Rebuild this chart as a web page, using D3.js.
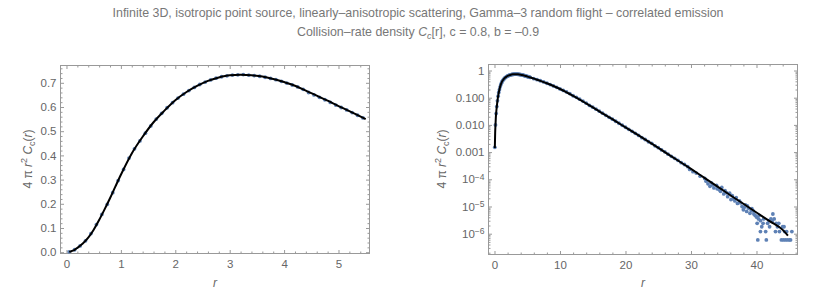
<!DOCTYPE html>
<html>
<head>
<meta charset="utf-8">
<script src="https://cdn.jsdelivr.net/npm/d3@7"></script>
<style>
body { margin: 0; background: #fff; }
text { font-family: "Liberation Sans", Arial, sans-serif; }
</style>
</head>
<body>
<svg id="chart" width="830" height="306"></svg>
<script>
// exact solution 4 pi r^2 Cc(r)
var curveR = [0.05,0.1,0.15,0.2,0.3,0.4,0.5,0.6,0.7,0.8,0.9,1.0,1.2,1.4,1.6,1.8,2.0,2.2,2.4,2.6,2.8,3.0,3.2,3.4,3.6,3.8,4.0,4.2,4.4,4.6,4.8,5.0,5.2,5.5,
  6,7,8,9,10,12,14,16,18,20,22,24,26,28,30,32,34,36,38,40,42,44,44.8];
var curveV = [0.0014,0.005,0.01,0.018,0.036,0.06,0.093,0.133,0.177,0.223,0.272,0.32,0.408,0.477,0.537,0.585,0.628,0.661,0.687,0.708,0.722,0.731,0.733,0.731,0.726,0.716,0.703,0.688,0.668,0.647,0.626,0.604,0.583,0.55,
  0.501,0.417,0.339,0.269,0.209,0.117,0.0617,0.0316,0.0162,0.0081,0.0041,0.00204,0.001,4.9e-4,2.4e-4,1.15e-4,5.5e-5,2.6e-5,1.26e-5,6.0e-6,2.9e-6,1.38e-6,8.5e-7];

// simulated (random flight) estimates
var mcR = [0.05,0.15,0.25,0.35,0.45,0.55,0.65,0.75,0.85,0.95,1.05,1.15,1.25,1.35,1.45,1.55,1.65,1.75,1.85,1.95,
  2.05,2.15,2.25,2.35,2.45,2.55,2.65,2.75,2.85,2.95,3.05,3.15,3.25,3.35,3.45,3.55,3.65,3.75,3.85,3.95,
  4.05,4.15,4.25,4.35,4.45,4.55,4.65,4.75,4.85,4.95,5.05,5.15,5.25,5.35,5.45,
  6,6.5,7,7.5,8,8.5,9,9.5,10,10.5,11,11.5,12,12.5,13,13.5,14,14.5,15,15.5,16,16.5,17,17.5,18,18.5,19,19.5,
  20,20.5,21,21.5,22,22.5,23,23.5,24,24.5,25,25.5,26,26.5,27,27.5,28,28.5,29,29.5,
  29.8,30.3,30.8,31.4,32.1,32.3,32.6,32.9,33.1,33.3,33.5,33.9,34.0,34.3,34.5,34.7,35.0,35.2,35.4,35.6,35.9,
  36.1,36.3,36.5,36.7,36.9,37.1,37.4,37.6,37.8,38.0,38.2,38.3,38.5,38.6,38.8,39.0,39.2,39.3,39.5,39.6,39.8,
  40.0,40.1,40.2,40.3,40.4,40.6,40.6,40.8,41.0,41.1,41.4,41.5,41.7,41.9,42.0,42.2,42.4,42.5,42.7,42.9,
  43.0,43.2,43.4,43.5,43.8,44.0,44.1,44.2,44.3,44.4,44.6,44.7,45.0,45.2,45.4];
var mcV = [0.0015,0.010,0.026,0.047,0.077,0.114,0.156,0.198,0.246,0.296,0.342,0.389,0.427,0.46,0.492,0.522,0.55,0.574,0.597,0.618,
  0.637,0.653,0.668,0.681,0.693,0.703,0.712,0.719,0.725,0.729,0.732,0.733,0.734,0.732,0.73,0.727,0.723,0.718,0.713,0.706,
  0.699,0.691,0.683,0.673,0.66,0.65,0.64,0.63,0.619,0.608,0.598,0.588,0.577,0.566,0.555,
  0.50,0.46,0.42,0.38,0.34,0.305,0.27,0.24,0.21,0.185,0.163,0.142,0.118,0.103,0.088,0.075,0.063,0.052,0.045,0.038,0.032,0.027,0.0225,0.019,0.0163,0.0136,0.0115,0.0097,
  0.0082,0.0069,0.0058,0.0049,0.0041,0.0034,0.0029,0.0024,0.0021,0.0017,0.00145,0.0012,0.00102,0.00084,0.0007,0.00059,0.0005,0.00041,0.00035,0.00029,
  2.3e-4,1.9e-4,1.7e-4,1.3e-4,1.07e-4,8.5e-5,6.8e-5,5.5e-5,7.4e-5,6.2e-5,4.8e-5,6.0e-5,4.5e-5,4.2e-5,3.6e-5,5.0e-5,2.9e-5,3.8e-5,3.2e-5,2.3e-5,3.1e-5,
  1.8e-5,2.5e-5,1.9e-5,1.6e-5,2.1e-5,1.3e-5,1.6e-5,1.35e-5,1.0e-5,7.6e-6,9.5e-6,1.15e-5,6.6e-6,1.05e-5,8.7e-6,5.6e-6,7.1e-6,8.3e-6,6.9e-6,5.3e-6,4.7e-6,
  4.1e-6,2.4e-6,5.9e-7,3.5e-6,4.7e-6,3.0e-6,1.2e-6,1.8e-6,2.4e-6,3.5e-6,1.2e-6,5.9e-7,2.4e-6,3.0e-6,1.8e-6,3.5e-6,2.95e-6,5.3e-6,3.5e-6,1.2e-6,
  2.4e-6,1.8e-6,2.4e-6,1.2e-6,5.9e-7,1.8e-6,5.9e-7,1.8e-6,1.2e-6,5.9e-7,1.2e-6,5.9e-7,5.9e-7,5.9e-7,1.2e-6];

var leftXTicks = [0,1,2,3,4,5];
var leftYTicks = [0,0.1,0.2,0.3,0.4,0.5,0.6,0.7];
var rightXTicks = [0,10,20,30,40];
var rightYTicks = [1,0.1,0.01,0.001,1e-4,1e-5,1e-6];
var rightYLabels = ["1","0.100","0.010","0.001","10^\u22124","10^\u22125","10^\u22126"];

var svg = d3.select("#chart");
var grey = "#999", labelCol = "#666";

var curve = curveR.map(function(r,i){ return {r:r, v:curveV[i]}; });
var mc = mcR.map(function(r,i){ return {r:r, v:mcV[i]}; });

// title
svg.append("text").attr("x",418).attr("y",17).attr("text-anchor","middle")
  .attr("fill","#777").style("font-size","12.4px")
  .text("Infinite 3D, isotropic point source, linearly\u2013anisotropic scattering, Gamma\u20133 random flight \u2013 correlated emission");
var t2 = svg.append("text").attr("x",418).attr("y",36).attr("text-anchor","middle")
  .attr("fill","#777").style("font-size","12.4px");
t2.append("tspan").text("Collision\u2013rate density ");
t2.append("tspan").style("font-style","italic").text("C");
t2.append("tspan").attr("dy",3).style("font-size","9px").style("font-style","italic").text("c");
t2.append("tspan").attr("dy",-3).text("[r], c = 0.8, b = \u20130.9");

function yTitle(cx, cy) {
  var t = svg.append("text").attr("transform","translate("+cx+","+cy+") rotate(-90)")
    .attr("text-anchor","middle").attr("fill",labelCol).style("font-size","12px");
  t.append("tspan").text("4 \u03c0 ");
  t.append("tspan").style("font-style","italic").text("r");
  t.append("tspan").attr("dy",-5).style("font-size","9px").text("2");
  t.append("tspan").attr("dy",5).text(" ");
  t.append("tspan").style("font-style","italic").text("C");
  t.append("tspan").attr("dy",3).style("font-size","9px").text("c");
  t.append("tspan").attr("dy",-3).text("(");
  t.append("tspan").style("font-style","italic").text("r");
  t.append("tspan").text(")");
}

function xTitle(cx, cy) {
  svg.append("text").attr("x",cx).attr("y",cy).attr("text-anchor","middle")
    .attr("fill",labelCol).style("font-size","12px").style("font-style","italic").text("r");
}

function frameAxes(g, x, y, xMaj, xMin, yMaj, yMin, xFmt, yFmt) {
  var x0 = x.range()[0], x1 = x.range()[1], yb = y.range()[0], yt = y.range()[1];
  function style(sel) {
    sel.select(".domain").remove();
    sel.selectAll("line").attr("stroke",grey);
    sel.selectAll("text").attr("fill",labelCol).style("font-size","11.5px")
      .style("font-family","'Liberation Sans', Arial, sans-serif");
  }
  g.append("g").attr("transform","translate(0,"+yb+")")
    .call(d3.axisBottom(x).tickValues(xMaj).tickSizeInner(-3.5).tickSizeOuter(0).tickPadding(6).tickFormat(xFmt)).call(style);
  g.append("g").attr("transform","translate(0,"+yb+")")
    .call(d3.axisBottom(x).tickValues(xMin).tickSize(-2).tickFormat("")).call(style);
  g.append("g").attr("transform","translate(0,"+yt+")")
    .call(d3.axisTop(x).tickValues(xMaj).tickSize(-3.5).tickFormat("")).call(style);
  g.append("g").attr("transform","translate(0,"+yt+")")
    .call(d3.axisTop(x).tickValues(xMin).tickSize(-2).tickFormat("")).call(style);
  var yl = g.append("g").attr("transform","translate("+x0+",0)")
    .call(d3.axisLeft(y).tickValues(yMaj).tickSizeInner(-3.5).tickSizeOuter(0).tickPadding(4).tickFormat(yFmt)).call(style);
  g.append("g").attr("transform","translate("+x0+",0)")
    .call(d3.axisLeft(y).tickValues(yMin).tickSize(-2).tickFormat("")).call(style);
  g.append("g").attr("transform","translate("+x1+",0)")
    .call(d3.axisRight(y).tickValues(yMaj).tickSize(-3.5).tickFormat("")).call(style);
  g.append("g").attr("transform","translate("+x1+",0)")
    .call(d3.axisRight(y).tickValues(yMin).tickSize(-2).tickFormat("")).call(style);
  g.append("rect").attr("x",x0).attr("y",yt).attr("width",x1-x0).attr("height",yb-yt)
    .attr("fill","none").attr("stroke",grey).attr("stroke-width",1);
  return yl;
}

function drawData(g, x, y, pts, line) {
  g.append("g").selectAll("circle").data(pts).enter().append("circle")
    .attr("cx",function(d){ return x(d.r); })
    .attr("cy",function(d){ return y(d.v); })
    .attr("r",1.9).attr("fill","#5e81b5");
  g.append("path").datum(line)
    .attr("d", d3.line().curve(d3.curveMonotoneX)
      .x(function(d){ return x(d.r); }).y(function(d){ return y(d.v); }))
    .attr("fill","none").attr("stroke","#000").attr("stroke-width",2);
}

// left panel: linear
var xL = d3.scaleLinear().domain([-0.11,5.57]).range([60.5,369.5]);
var yL = d3.scaleLinear().domain([-0.0054,0.7715]).range([253.5,65.5]);
var gL = svg.append("g");
frameAxes(gL, xL, yL, leftXTicks, d3.range(0,5.6,0.2).filter(function(v){ return Math.abs(v-Math.round(v))>1e-6; }),
  leftYTicks, d3.range(0,0.77,0.02).filter(function(v){ return Math.abs(v*10-Math.round(v*10))>1e-6; }),
  d3.format("d"), d3.format(".1f"));
drawData(gL, xL, yL, mc.filter(function(d){ return d.r <= 5.5; }), curve.filter(function(d){ return d.r <= 5.5; }));
xTitle(215, 287);
yTitle(32, 159);

// right panel: log
var xR = d3.scaleLinear().domain([-0.916,46.26]).range([488.5,797.5]);
var yR = d3.scaleLog().domain([Math.pow(10,-6.765),Math.pow(10,0.2206)]).range([254.5,64.5]);
var gR = svg.append("g");
var minorLog = [];
[-7,-6,-5,-4,-3,-2,-1,0].forEach(function(e){ for (var k=2;k<10;k++){ var v=k*Math.pow(10,e); if (v>yR.domain()[0] && v<yR.domain()[1]) minorLog.push(v);} });
var ylR = frameAxes(gR, xR, yR, rightXTicks, d3.range(2,46,2).filter(function(v){ return v%10 !== 0; }),
  rightYTicks, minorLog, d3.format("d"), function(d,i){ return rightYLabels[i]; });
ylR.selectAll(".tick text").each(function(d,i){
  var s = rightYLabels[i].split("^");
  if (s.length < 2) return;
  var t = d3.select(this).text(null);
  t.append("tspan").text(s[0]);
  t.append("tspan").attr("dy","-0.45em").style("font-size","8.5px").text(s[1]);
});
drawData(gR, xR, yR, mc, curve);
xTitle(643, 287);
yTitle(446, 159);
</script>
</body>
</html>
